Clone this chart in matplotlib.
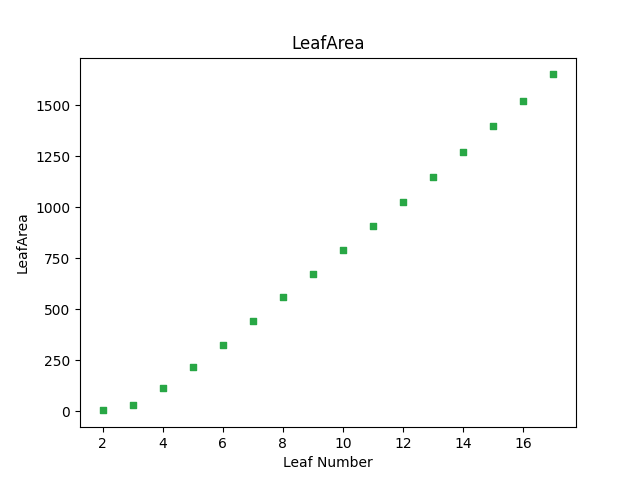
import matplotlib
matplotlib.use("Agg")
import matplotlib.pyplot as plt

leaf_number = [2, 3, 4, 5, 6, 7, 8, 9, 10, 11, 12, 13, 14, 15, 16, 17]
leaf_area = [5, 30, 113, 216, 328, 441, 559, 672, 789, 907, 1025, 1147, 1270, 1397, 1520, 1652]

fig, ax = plt.subplots(figsize=(6.4, 4.8), dpi=100)
ax.scatter(leaf_number, leaf_area, marker="s", s=25, color="#28a745")
ax.set_title("LeafArea")
ax.set_xlabel("Leaf Number")
ax.set_ylabel("LeafArea")
fig.savefig("out.png")
